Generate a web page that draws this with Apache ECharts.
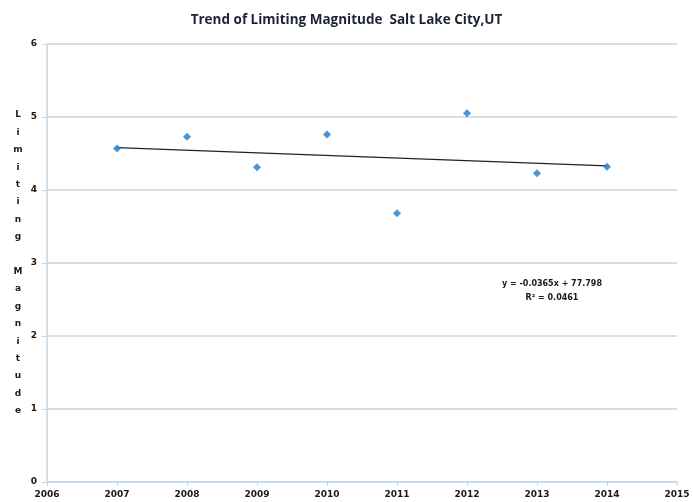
<!DOCTYPE html>
<html>
<head>
<meta charset="utf-8">
<script src="https://cdn.jsdelivr.net/npm/echarts@6/dist/echarts.min.js"></script>
<style>
  html, body { margin: 0; padding: 0; background: #fff; }
  #chart { width: 693px; height: 502px; }
</style>
</head>
<body>
<div id="chart"></div>
<script>
const years = [2007, 2008, 2009, 2010, 2011, 2012, 2013, 2014];
const magnitude = [4.57, 4.73, 4.31, 4.76, 3.68, 5.05, 4.23, 4.32];
// linear trend endpoints as drawn
const trendYears = [2007, 2014];
const trendValues = [4.58, 4.33];
const equationLines = ['y = -0.0365x + 77.798', 'R² = 0.0461'];
const yTitle = 'Limiting Magnitude';

const chart = echarts.init(document.getElementById('chart'));

const gridColor = '#c3d6e6';
const labelStyle = { color: '#1a1a1a', fontSize: 9, fontWeight: 'bold', fontFamily: 'DejaVu Sans' };

const option = {
  animation: false,
  backgroundColor: '#fff',
  title: {
    text: 'Trend of Limiting Magnitude  Salt Lake City,UT',
    left: 'center',
    top: 8,
    textStyle: { color: '#1c2433', fontSize: 13.5, fontWeight: 'bold', fontFamily: 'Open Sans' },
  },
  grid: { left: 47, right: 16, top: 44, bottom: 20 },
  xAxis: {
    type: 'value',
    min: 2006,
    max: 2015,
    interval: 1,
    axisLine: { lineStyle: { color: gridColor, width: 1.5 } },
    axisTick: { show: true, length: 4, lineStyle: { color: gridColor } },
    axisLabel: { ...labelStyle, margin: 8, formatter: v => String(v) },
    splitLine: { show: false },
  },
  yAxis: {
    type: 'value',
    min: 0,
    max: 6,
    interval: 1,
    name: yTitle.split('').join('\n'),
    nameLocation: 'middle',
    nameRotate: 0,
    nameGap: 29,
    nameTextStyle: { ...labelStyle, lineHeight: 17.4, align: 'center', verticalAlign: 'middle', padding: [6, 0, 0, 0] },
    axisLine: { show: true, lineStyle: { color: gridColor, width: 1.5 } },
    axisTick: { show: true, length: 5, lineStyle: { color: gridColor } },
    axisLabel: { ...labelStyle, margin: 10 },
    splitLine: { lineStyle: { color: gridColor, width: 1.5 } },
  },
  series: [
    {
      type: 'scatter',
      symbol: 'diamond',
      symbolSize: 8,
      itemStyle: { color: '#1f7ac9' },
      data: years.map((y, i) => [y, magnitude[i]]),
      z: 3,
    },
    {
      type: 'line',
      symbol: 'none',
      lineStyle: { color: '#222', width: 1.3 },
      data: trendYears.map((y, i) => [y, trendValues[i]]),
      z: 2,
    },
  ],
  graphic: [
    {
      type: 'text',
      x: 552,
      y: 277,
      style: {
        text: equationLines.join('\n'),
        fill: '#1a1a1a',
        font: 'bold 8px DejaVu Sans',
        lineHeight: 14,
        align: 'center',
      },
    },
  ],
};

chart.setOption(option);
</script>
</body>
</html>
